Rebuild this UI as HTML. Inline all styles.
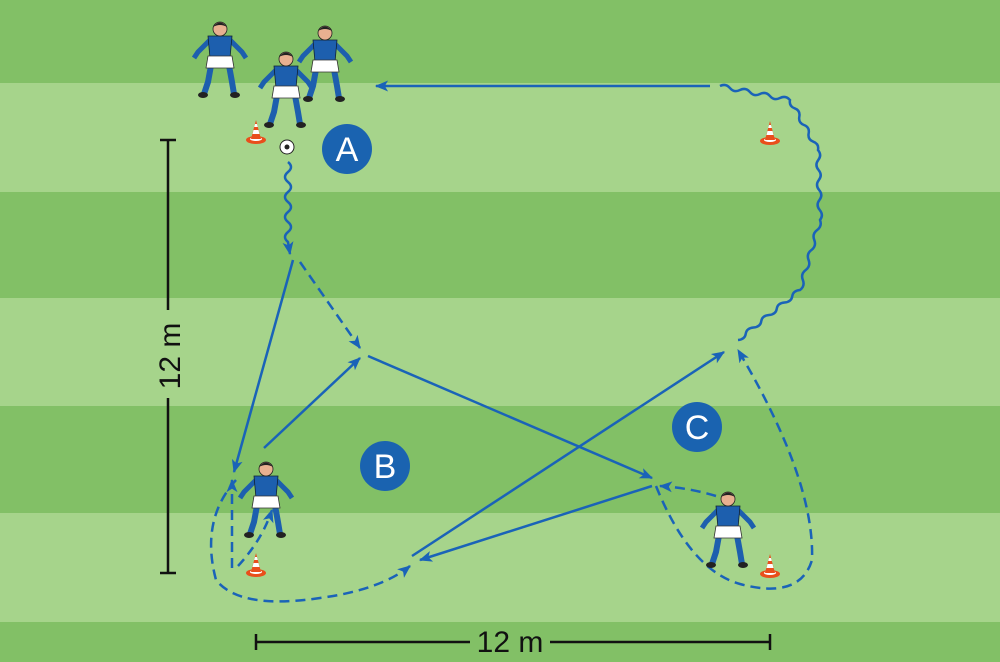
<!DOCTYPE html>
<html><head><meta charset="utf-8"><style>
html,body{margin:0;padding:0}
body{width:1000px;height:662px;overflow:hidden}
svg{display:block}
</style></head><body>
<svg width="1000" height="662" viewBox="0 0 1000 662" xmlns="http://www.w3.org/2000/svg">
<defs>
<marker id="a" viewBox="0 0 12 10" refX="11" refY="5" markerWidth="14" markerHeight="11" orient="auto" markerUnits="userSpaceOnUse">
<path d="M0,0 L12,5 L0,10 L3,5 z" fill="#1a63b8"/></marker>
<g id="cone"><ellipse cx="0" cy="0" rx="10" ry="4" fill="#e94e1b"/><ellipse cx="0" cy="-1" rx="6" ry="2" fill="#fff"/><path d="M-5,-1 L0,-20 L5,-1z" fill="#e94e1b"/><path d="M-3.5,-6 L3.5,-6 L2.5,-10 L-2.5,-10z" fill="#fff"/><path d="M-1.8,-13 L1.8,-13 L1,-16 L-1,-16z" fill="#fff"/></g>
<g id="pl">
<path d="M-8,22 L-12,44 L-16,56 M8,22 L12,44 L14,56" stroke="#1d5fae" stroke-width="6" fill="none"/>
<path d="M-8,0 L-22,14 L-26,20 M8,0 L22,14 L26,20" stroke="#1d5fae" stroke-width="5" fill="none"/>
<path d="M-12,-2 L12,-2 L10,20 L-10,20z" fill="#1d5fae" stroke="#123" stroke-width="0.8"/>
<path d="M-12,18 L12,18 L14,30 L-14,30z" fill="#fff" stroke="#333" stroke-width="0.8"/>
<circle cx="0" cy="-9" r="7" fill="#e8b090" stroke="#222" stroke-width="0.8"/>
<path d="M-7,-11 Q0,-20 7,-11 Q0,-15 -7,-11z" fill="#222"/>
<ellipse cx="-17" cy="57" rx="5" ry="3" fill="#222"/><ellipse cx="15" cy="57" rx="5" ry="3" fill="#222"/>
</g>
</defs>
<rect width="1000" height="662" fill="#82c066"/>
<rect y="83" width="1000" height="109" fill="#a6d48b"/>
<rect y="298" width="1000" height="108" fill="#a6d48b"/>
<rect y="513" width="1000" height="109" fill="#a6d48b"/>

<g stroke="#111" stroke-width="2.5" fill="none">
<path d="M168,140 V310 M168,398 V573 M160,140 H176 M160,573 H176"/>
<path d="M256,642 H470 M550,642 H770 M256,634 V650 M770,634 V650"/>
</g>
<text x="0" y="0" transform="translate(180,356) rotate(-90)" text-anchor="middle" font-family="Liberation Sans, sans-serif" font-size="30" fill="#111">12 m</text>
<text x="510" y="652" text-anchor="middle" font-family="Liberation Sans, sans-serif" font-size="30" fill="#111">12 m</text>

<g stroke="#1a63b8" stroke-width="2.5" fill="none" marker-end="url(#a)">
<path d="M710,86 H376"/>
<path d="M293,260 L234,472"/>
<path d="M264,448 L360,358"/>
<path d="M368,356 L652,478"/>
<path d="M652,486 L420,560"/>
<path d="M412,556 L724,352"/>
<path stroke-dasharray="10,6" d="M300,262 L360,348"/>
<path stroke-dasharray="10,6" d="M232,568 L232,480"/>
<path stroke-dasharray="9,6" d="M238,566 Q262,540 272,510"/>
<path stroke-dasharray="10,6" d="M236,480 Q200,520 216,580 Q240,610 320,598 Q380,590 410,566"/>
<path stroke-dasharray="10,6" d="M716,496 Q690,488 660,486"/>
<path stroke-dasharray="10,6" d="M656,486 Q690,570 740,584 Q800,600 812,560 Q815,480 738,350"/>
<path d="M288,162 q6,5 0,10 q-6,5 0,10 q6,5 0,10 q-6,5 0,10 q6,5 0,10 q-6,5 0,10 q6,5 0,10 q-6,5 0,10 l2,12"/>
<path marker-end="none" d="M738,340
 q7,-0.6 7.75,-6.25 q0.8,-5.6 7.75,-6.25 q7,-0.6 7.75,-6.25 q0.8,-5.6 7.75,-6.25 q7,-0.6 7.75,-6.25 q0.8,-5.6 7.75,-6.25 q7,-0.6 7.75,-6.25 q0.8,-5.6 7.75,-6.25
 q5.2,-3.9 2.86,-10 q-2.4,-6.1 2.86,-10 q5.2,-3.9 2.86,-10 q-2.4,-6.1 2.86,-10 q5.2,-3.9 2.86,-10 q-2.4,-6.1 2.86,-10 q5.2,-3.9 2.86,-10
 q3.9,-5 -0.29,-10 q-4.1,-5 -0.29,-10 q3.9,-5 -0.29,-10 q-4.1,-5 -0.29,-10 q3.9,-5 -0.29,-10 q-4.1,-5 -0.29,-10 q3.9,-5 -0.29,-10
 q1.2,-6.2 -4.67,-8.33 q-5.8,-2.2 -4.67,-8.33 q1.2,-6.2 -4.67,-8.33 q-5.8,-2.2 -4.67,-8.33 q1.2,-6.2 -4.67,-8.33 q-5.8,-2.2 -4.67,-8.33
 q-4.2,-4.9 -10,-2 q-5.8,2.9 -10,-2 q-4.2,-4.9 -10,-2 q-5.8,2.9 -10,-2 q-4.2,-4.9 -10,-2 q-5.8,2.9 -10,-2 q-4.2,-4.9 -10,-2"/>
</g>

<g font-family="Liberation Sans, sans-serif" font-size="34" fill="#fff" text-anchor="middle">
<circle cx="347" cy="149" r="25" fill="#1a63b0"/><text x="347" y="161">A</text>
<circle cx="385" cy="466" r="25" fill="#1a63b0"/><text x="385" y="478">B</text>
<circle cx="697" cy="427" r="25" fill="#1a63b0"/><text x="697" y="439">C</text>
</g>

<use href="#cone" x="256" y="140"/>
<use href="#cone" x="770" y="141"/>
<use href="#cone" x="256" y="573"/>
<use href="#cone" x="770" y="574"/>

<circle cx="287" cy="147" r="7" fill="#fff" stroke="#222" stroke-width="1"/>
<circle cx="287" cy="147" r="2.5" fill="#222"/>

<use href="#pl" x="220" y="38"/>
<use href="#pl" x="325" y="42"/>
<use href="#pl" x="286" y="68"/>
<use href="#pl" x="266" y="478"/>
<use href="#pl" x="728" y="508"/>
</svg>
</body></html>
